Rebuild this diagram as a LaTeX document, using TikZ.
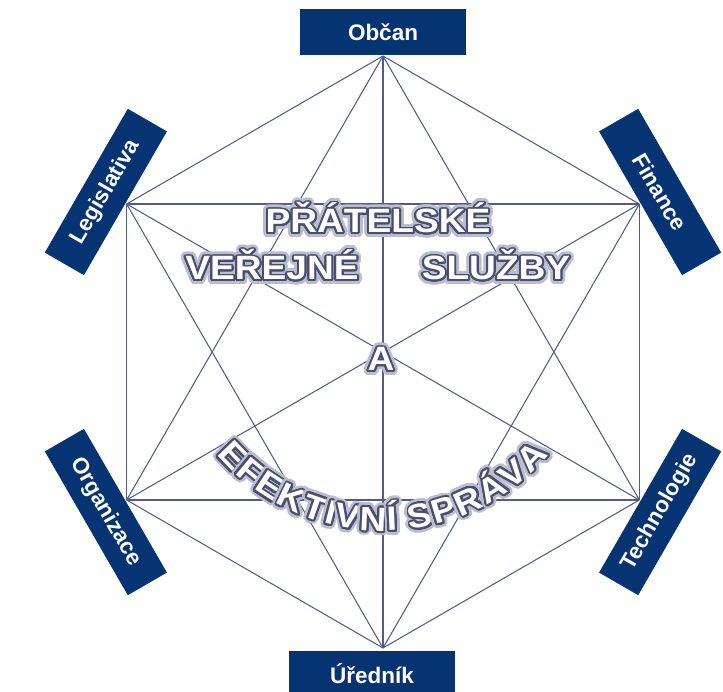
\documentclass[tikz,border=0pt]{standalone}
\usepackage{fontspec}
\setmainfont{Liberation Sans}
\newfontfamily\widefont{Liberation Sans}[FakeStretch=1.1]
\usepackage{contour}
\contournumber{24}
\definecolor{navy}{RGB}{6,52,114}
\definecolor{edgecol}{RGB}{82,92,140}
\definecolor{haloA}{RGB}{185,189,205}
\definecolor{haloB}{RGB}{72,78,108}
\newcommand{\glowtext}[1]{\rlap{\contourlength{3.4pt}\contour{haloA}{#1}}\contourlength{1.4pt}\contour{haloB}{#1}}

\begin{document}
\begin{tikzpicture}[
        edge/.style={draw=edgecol, line width=0.75pt},
        tagbox/.style={fill=navy, text=white, font=\bfseries\fontsize{16}{18}\selectfont,
            minimum width=4.15cm, minimum height=1.13cm, inner sep=0pt},
        bigtext/.style={text=white, font=\widefont\bfseries\fontsize{24}{28}\selectfont, inner sep=0pt}
    ]
        \useasboundingbox (-9.575,-8.5) rectangle (8.5,8.8);

        % Corners of the hexagon
        \foreach \a [count=\k] in {90,30,-30,-90,-150,150}
            \coordinate (v\k) at (\a:7.4);

        % Every corner joined to every other one
        \foreach \i in {1,...,5}{
            \pgfmathtruncatemacro\nxt{\i+1}
            \foreach \j in {\nxt,...,6}
                \draw[edge] (v\i) -- (v\j);
        }

        % Boxes round the hexagon
        \node[tagbox] (obcan) at (90:8) {Občan};
        \node[tagbox, rotate=-60] (finance) at (30:8) {Finance};
        \node[tagbox, rotate=60] (technologie) at (-30:8) {Technologie};
        \node[tagbox, xshift=-0.275cm] (urednik) at (-90:8.05) {Úředník};
        \node[tagbox, rotate=-60] (organizace) at (210:8) {Organizace};
        \node[tagbox, rotate=60] (legislativa) at (150:8) {Legislativa};

        % Title in the middle
        \node[bigtext, anchor=base] (pratelske) at (-0.125,2.975) {\glowtext{PŘÁTELSKÉ}};
        \node[bigtext, anchor=base] (verejne) at (-2.775,1.8) {\glowtext{VEŘEJNÉ}};
        \node[bigtext, anchor=base] (sluzby) at (2.825,1.8) {\glowtext{SLUŽBY}};
        \node[bigtext, anchor=base] (a) at (-0.05,-0.475) {\glowtext{A}};

        % Bent line of letters
        \coordinate (arc) at (0,1.0);
        \foreach \ch/\ang [count=\k] in {E/223.8, F/230.3, E/236.9, K/244.0, T/250.9, I/255.5,
                V/260.3, N/267.4, Í/272.6, S/280.3, P/287.1, R/294.3, Á/301.7, V/308.8, A/315.9}
            \node[bigtext, anchor=base, rotate=\ang+90] (l\k) at ([shift={(\ang:5.475)}]arc) {\glowtext{\ch}};

    \end{tikzpicture}
\end{document}
